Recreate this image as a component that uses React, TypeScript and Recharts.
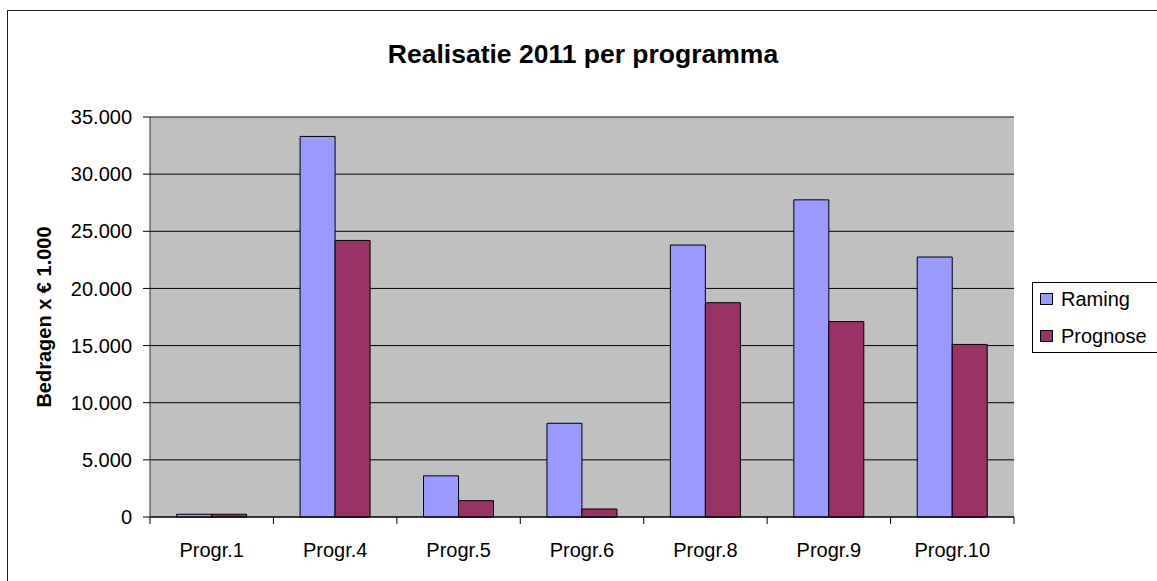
import React from 'react';
import { BarChart, Bar, XAxis, YAxis, CartesianGrid, ReferenceLine } from 'recharts';

const categories = ['Progr.1', 'Progr.4', 'Progr.5', 'Progr.6', 'Progr.8', 'Progr.9', 'Progr.10'];
const raming = [240, 33300, 3600, 8200, 23800, 27750, 22750];
const prognose = [240, 24200, 1430, 700, 18750, 17100, 15100];
const yTicks = [0, 5000, 10000, 15000, 20000, 25000, 30000, 35000];
const seriesNames = ['Raming', 'Prognose'];
const seriesColors = ['#9999FF', '#993366'];

const data = categories.map((c, i) => ({ name: c, Raming: raming[i], Prognose: prognose[i] }));

const FONT = '"Liberation Sans", Arial, sans-serif';
const W = 1157;
const H = 581;
const M = { top: 117, right: 143, bottom: 0, left: 0 };
const plotW = W - 150 - M.right;
const cw = plotW / categories.length;

const fmt = (v: number) => String(v).replace(/\B(?=(\d{3})+(?!\d))/g, '.');

const XTick = (props: any) => {
  const { x, y, payload, index } = props;
  const last = index === categories.length - 1;
  return (
    <g>
      <line x1={x - cw / 2} x2={x - cw / 2} y1={y} y2={y + 7} stroke="#000" />
      {last && <line x1={x + cw / 2} x2={x + cw / 2} y1={y} y2={y + 7} stroke="#000" />}
      <text x={x} y={y + 40} textAnchor="middle" fontFamily={FONT} fontSize={20} fill="#000">
        {payload.value}
      </text>
    </g>
  );
};

const LegendBox = () => (
  <div
    style={{
      position: 'absolute',
      left: 1032,
      top: 282,
      border: '1px solid #000',
      width: 140,
      height: 69,
      background: '#fff',
      fontFamily: FONT,
      fontSize: 20,
      color: '#000',
    }}
  >
    {seriesNames.map((n, i) => (
      <div key={n} style={{ position: 'absolute', left: 7, top: i === 0 ? 4 : 41, height: 24, display: 'flex', alignItems: 'center', whiteSpace: 'nowrap' }}>
        <span style={{ display: 'inline-block', width: 11, height: 10, background: seriesColors[i], border: '1px solid #000', marginRight: 8 }} />
        <span style={{ lineHeight: '24px' }}>{n}</span>
      </div>
    ))}
  </div>
);

export default function App() {
  return (
    <div style={{ position: 'absolute', left: 0, top: 0, width: W, height: H, overflow: 'hidden', background: '#fff' }}>
      <div style={{ position: 'absolute', left: 7, top: 10, width: 1300, height: 700, borderLeft: '1px solid #222', borderTop: '1px solid #222' }} />
      <div style={{ position: 'absolute', left: 0, top: 0 }}>
        <BarChart width={W} height={H} data={data} margin={M} barGap={0} barCategoryGap="21.6%">
          <text x={583} y={63} textAnchor="middle" fontFamily={FONT} fontSize={26.5} fontWeight="bold" fill="#000">
            Realisatie 2011 per programma
          </text>
          <text transform="translate(51,317) rotate(-90)" textAnchor="middle" fontFamily={FONT} fontSize={20} fontWeight="bold" fill="#000">
            Bedragen x € 1.000
          </text>
          <CartesianGrid vertical={false} stroke="#000" fill="#C0C0C0" fillOpacity={1} />
          <XAxis
            dataKey="name"
            height={64}
            tickSize={0}
            tickMargin={0}
            tickLine={false}
            axisLine={{ stroke: '#000' }}
            tick={<XTick />}
            interval={0}
          />
          <YAxis
            width={150}
            domain={[0, 35000]}
            ticks={yTicks}
            tickFormatter={fmt}
            tickSize={7}
            tickMargin={11}
            tickLine={{ stroke: '#000' }}
            axisLine={{ stroke: '#333' }}
            tick={{ fontFamily: FONT, fontSize: 20, fill: '#000' }}
            interval={0}
          />
          <YAxis yAxisId="r" orientation="right" width={0} domain={[0, 35000]} tick={false} tickLine={false} axisLine={{ stroke: '#808080' }} />
          <ReferenceLine y={35000} stroke="#808080" />
          <Bar dataKey="Raming" fill={seriesColors[0]} stroke="#000" strokeWidth={1} isAnimationActive={false} />
          <Bar dataKey="Prognose" fill={seriesColors[1]} stroke="#000" strokeWidth={1} isAnimationActive={false} />
        </BarChart>
      </div>
      <LegendBox />
    </div>
  );
}
